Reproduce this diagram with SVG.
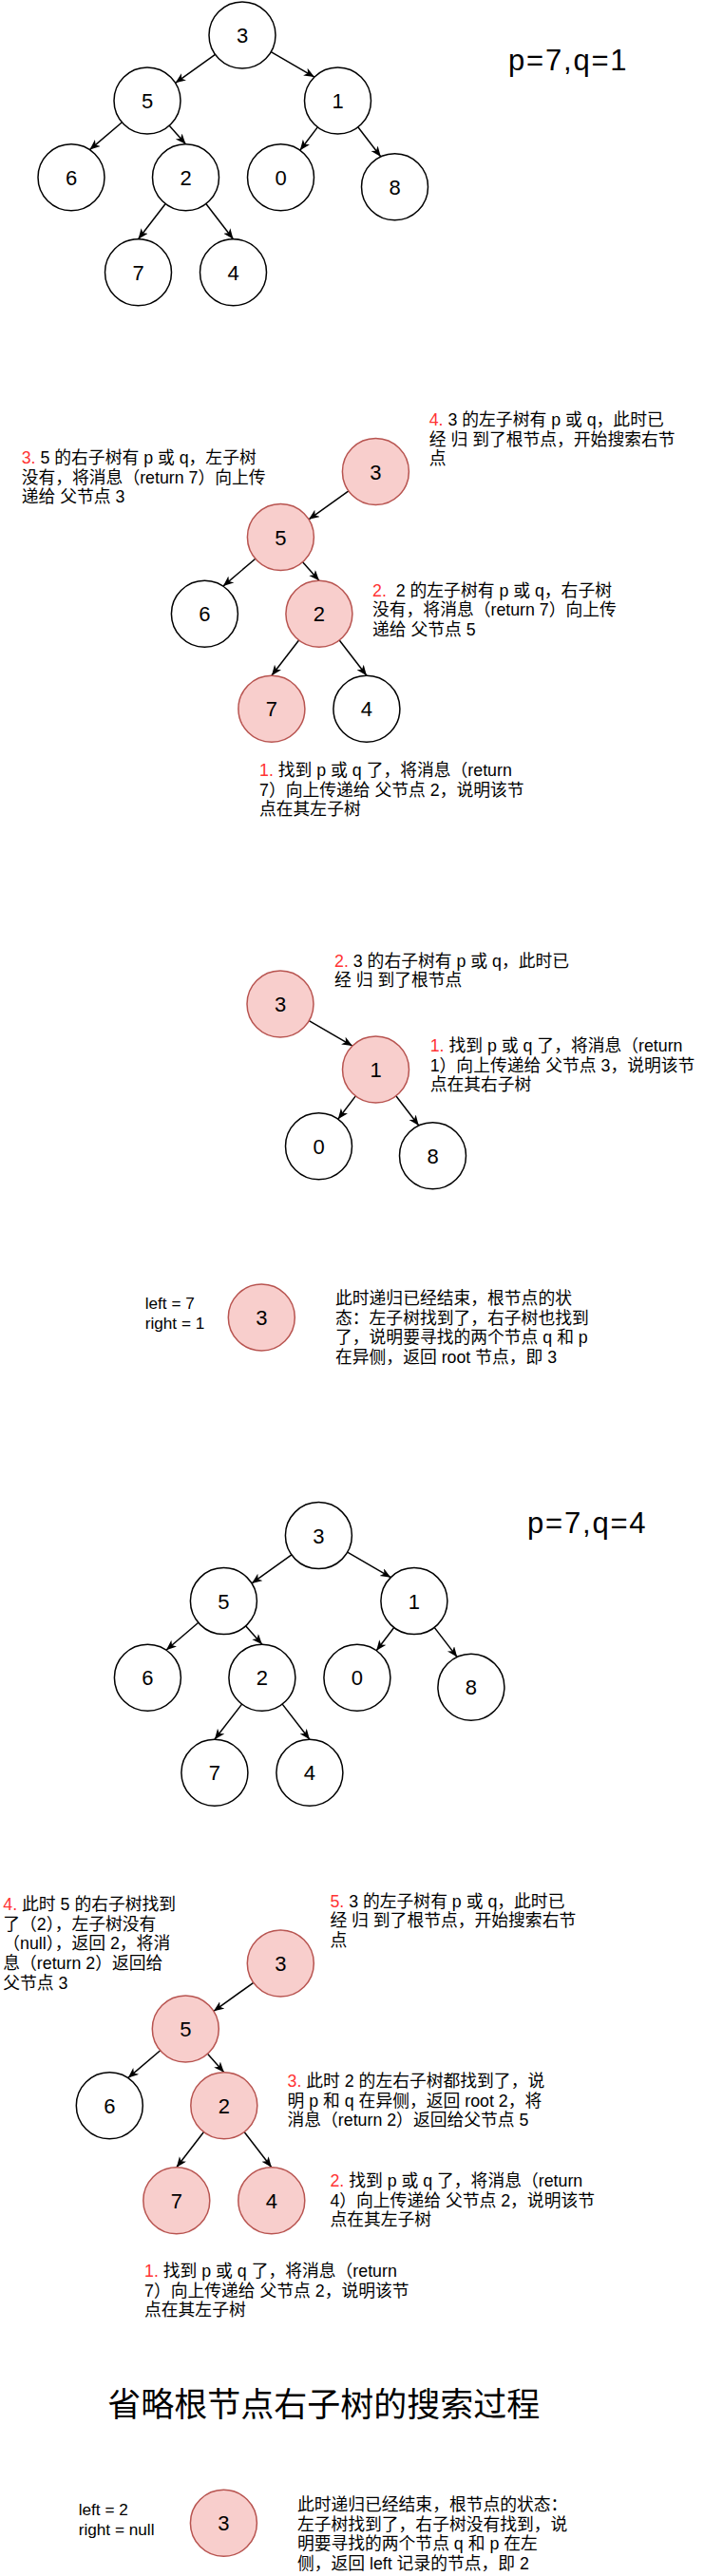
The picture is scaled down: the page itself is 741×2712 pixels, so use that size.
<svg xmlns="http://www.w3.org/2000/svg" width="741" height="2712" viewBox="0 0 741 2712">
<style>
text{font-family:"Liberation Sans","Noto Sans CJK SC",sans-serif;fill:#000;white-space:pre}
.t{font-size:17.8px}
.v{font-size:17.2px}
.d{font-size:22px;text-anchor:middle}
.r{fill:#FF3333}
.n{fill:#fff;stroke:#000;stroke-width:1.5}
.h{fill:#f8cecc;stroke:#b85450;stroke-width:1.5}
.e{fill:none;stroke:#000;stroke-width:1.5;marker-end:url(#arr)}
.pq{font-size:31px;letter-spacing:1.8px}
.title{font-size:35px}
</style>
<defs>
<marker id="arr" markerUnits="userSpaceOnUse" markerWidth="12" markerHeight="10" refX="11" refY="4.5" orient="auto">
<path d="M0,0 L11,4.5 L0,9 L3,4.5 z" fill="#000"/>
</marker>
</defs>
<rect width="741" height="2712" fill="#fff"/>

<!-- Tree 1 -->
<g id="tree1-edges">
<path class="e" d="M226.5,57.3 L184.6,87.3"/>
<path class="e" d="M285.3,54.6 L330.9,81.1"/>
<path class="e" d="M128.4,128.7 L94.5,157.6"/>
<path class="e" d="M178.2,132.2 L195.5,151.7"/>
<path class="e" d="M334.3,133.9 L315.8,158.2"/>
<path class="e" d="M376.8,133.8 L400.8,165"/>
<path class="e" d="M174.2,214.5 L145.5,251.7"/>
<path class="e" d="M216.8,214.5 L245.5,251.7"/>
</g>
<g id="t1-n3"><circle class="n" cx="255" cy="37" r="35"/><text class="d" x="255" y="45">3</text></g>
<g id="t1-n5"><circle class="n" cx="155" cy="106" r="35"/><text class="d" x="155" y="114">5</text></g>
<g id="t1-n1"><circle class="n" cx="355.5" cy="106" r="35"/><text class="d" x="355.5" y="114">1</text></g>
<g id="t1-n6"><circle class="n" cx="75" cy="186.7" r="35"/><text class="d" x="75" y="194.7">6</text></g>
<g id="t1-n2"><circle class="n" cx="195.5" cy="186.7" r="35"/><text class="d" x="195.5" y="194.7">2</text></g>
<g id="t1-n0"><circle class="n" cx="295.5" cy="186.7" r="35"/><text class="d" x="295.5" y="194.7">0</text></g>
<g id="t1-n8"><circle class="n" cx="415.5" cy="196.7" r="35"/><text class="d" x="415.5" y="204.7">8</text></g>
<g id="t1-n7"><circle class="n" cx="145.5" cy="286.7" r="35"/><text class="d" x="145.5" y="294.7">7</text></g>
<g id="t1-n4"><circle class="n" cx="245.5" cy="286.7" r="35"/><text class="d" x="245.5" y="294.7">4</text></g>
<g id="t1-label"><text class="pq" x="535" y="74.3">p=7,q=1</text></g>

<!-- Section 2 -->
<g id="s2-edges" transform="translate(140.4,459.5)">
<path class="e" d="M226.5,57.3 L184.6,87.3"/>
<path class="e" d="M128.4,128.7 L94.5,157.6"/>
<path class="e" d="M178.2,132.2 L195.5,151.7"/>
<path class="e" d="M174.2,214.5 L145.5,251.7"/>
<path class="e" d="M216.8,214.5 L245.5,251.7"/>
</g>
<g id="s2-n3"><circle class="h" cx="395.4" cy="496.5" r="35"/><text class="d" x="395.4" y="504.5">3</text></g>
<g id="s2-n5"><circle class="h" cx="295.4" cy="565.5" r="35"/><text class="d" x="295.4" y="573.5">5</text></g>
<g id="s2-n6"><circle class="n" cx="215.4" cy="646.2" r="35"/><text class="d" x="215.4" y="654.2">6</text></g>
<g id="s2-n2"><circle class="h" cx="335.9" cy="646.2" r="35"/><text class="d" x="335.9" y="654.2">2</text></g>
<g id="s2-n7"><circle class="h" cx="285.9" cy="746.2" r="35"/><text class="d" x="285.9" y="754.2">7</text></g>
<g id="s2-n4"><circle class="n" cx="385.9" cy="746.2" r="35"/><text class="d" x="385.9" y="754.2">4</text></g>
<g id="s2-note4"><text class="t"><tspan x="451.7" y="448"><tspan class="r">4.</tspan> 3 的左子树有 p 或 q，此时已</tspan><tspan x="451.7" y="468.7">经 归 到了根节点，开始搜索右节</tspan><tspan x="451.7" y="489.4">点</tspan></text></g>
<g id="s2-note3"><text class="t"><tspan x="22.7" y="488"><tspan class="r">3.</tspan> 5 的右子树有 p 或 q，左子树</tspan><tspan x="22.7" y="508.7">没有，将消息（return 7）向上传</tspan><tspan x="22.7" y="529.4">递给 父节点 3</tspan></text></g>
<g id="s2-note2"><text class="t"><tspan x="392" y="627.7"><tspan class="r">2.</tspan>  2 的左子树有 p 或 q，右子树</tspan><tspan x="392" y="648.4">没有，将消息（return 7）向上传</tspan><tspan x="392" y="669.1">递给 父节点 5</tspan></text></g>
<g id="s2-note1"><text class="t"><tspan x="273" y="817"><tspan class="r">1.</tspan> 找到 p 或 q 了，将消息（return</tspan><tspan x="273" y="837.7">7）向上传递给 父节点 2，说明该节</tspan><tspan x="273" y="858.4">点在其左子树</tspan></text></g>

<!-- Section 3 -->
<g id="s3-edges" transform="translate(40,1020)">
<path class="e" d="M285.3,54.6 L330.9,81.1"/>
<path class="e" d="M334.3,133.9 L315.8,158.2"/>
<path class="e" d="M376.8,133.8 L400.8,165"/>
</g>
<g id="s3-n3"><circle class="h" cx="295" cy="1057" r="35"/><text class="d" x="295" y="1065">3</text></g>
<g id="s3-n1"><circle class="h" cx="395.5" cy="1126" r="35"/><text class="d" x="395.5" y="1134">1</text></g>
<g id="s3-n0"><circle class="n" cx="335.5" cy="1206.7" r="35"/><text class="d" x="335.5" y="1214.7">0</text></g>
<g id="s3-n8"><circle class="n" cx="455.5" cy="1216.7" r="35"/><text class="d" x="455.5" y="1224.7">8</text></g>
<g id="s3-note2"><text class="t"><tspan x="352" y="1017.7"><tspan class="r">2.</tspan> 3 的右子树有 p 或 q，此时已</tspan><tspan x="352" y="1038.4">经 归 到了根节点</tspan></text></g>
<g id="s3-note1"><text class="t"><tspan x="452.7" y="1107"><tspan class="r">1.</tspan> 找到 p 或 q 了，将消息（return</tspan><tspan x="452.7" y="1127.7">1）向上传递给 父节点 3，说明该节</tspan><tspan x="452.7" y="1148.4">点在其右子树</tspan></text></g>

<!-- Section 4 -->
<g id="s4-vars"><text class="v"><tspan x="152.7" y="1378.3">left = 7</tspan><tspan x="152.7" y="1399.3">right = 1</tspan></text></g>
<g id="s4-n3"><circle class="h" cx="275.3" cy="1387" r="35"/><text class="d" x="275.3" y="1395">3</text></g>
<g id="s4-note"><text class="t"><tspan x="353" y="1373">此时递归已经结束，根节点的状</tspan><tspan x="353" y="1393.7">态：左子树找到了，右子树也找到</tspan><tspan x="353" y="1414.4">了，说明要寻找的两个节点 q 和 p</tspan><tspan x="353" y="1435.1">在异侧，返回 root 节点，即 3</tspan></text></g>

<!-- Tree 2 -->
<g id="tree2-edges" transform="translate(80.4,1579.6)">
<path class="e" d="M226.5,57.3 L184.6,87.3"/>
<path class="e" d="M285.3,54.6 L330.9,81.1"/>
<path class="e" d="M128.4,128.7 L94.5,157.6"/>
<path class="e" d="M178.2,132.2 L195.5,151.7"/>
<path class="e" d="M334.3,133.9 L315.8,158.2"/>
<path class="e" d="M376.8,133.8 L400.8,165"/>
<path class="e" d="M174.2,214.5 L145.5,251.7"/>
<path class="e" d="M216.8,214.5 L245.5,251.7"/>
</g>
<g id="t2-n3"><circle class="n" cx="335.4" cy="1616.6" r="35"/><text class="d" x="335.4" y="1624.6">3</text></g>
<g id="t2-n5"><circle class="n" cx="235.4" cy="1685.6" r="35"/><text class="d" x="235.4" y="1693.6">5</text></g>
<g id="t2-n1"><circle class="n" cx="435.9" cy="1685.6" r="35"/><text class="d" x="435.9" y="1693.6">1</text></g>
<g id="t2-n6"><circle class="n" cx="155.4" cy="1766.3" r="35"/><text class="d" x="155.4" y="1774.3">6</text></g>
<g id="t2-n2"><circle class="n" cx="275.9" cy="1766.3" r="35"/><text class="d" x="275.9" y="1774.3">2</text></g>
<g id="t2-n0"><circle class="n" cx="375.9" cy="1766.3" r="35"/><text class="d" x="375.9" y="1774.3">0</text></g>
<g id="t2-n8"><circle class="n" cx="495.9" cy="1776.3" r="35"/><text class="d" x="495.9" y="1784.3">8</text></g>
<g id="t2-n7"><circle class="n" cx="225.9" cy="1866.3" r="35"/><text class="d" x="225.9" y="1874.3">7</text></g>
<g id="t2-n4"><circle class="n" cx="325.9" cy="1866.3" r="35"/><text class="d" x="325.9" y="1874.3">4</text></g>
<g id="t2-label"><text class="pq" x="555" y="1614">p=7,q=4</text></g>

<!-- Section 6 -->
<g id="s6-edges" transform="translate(40.3,2030)">
<path class="e" d="M226.5,57.3 L184.6,87.3"/>
<path class="e" d="M128.4,128.7 L94.5,157.6"/>
<path class="e" d="M178.2,132.2 L195.5,151.7"/>
<path class="e" d="M174.2,214.5 L145.5,251.7"/>
<path class="e" d="M216.8,214.5 L245.5,251.7"/>
</g>
<g id="s6-n3"><circle class="h" cx="295.3" cy="2067" r="35"/><text class="d" x="295.3" y="2075">3</text></g>
<g id="s6-n5"><circle class="h" cx="195.3" cy="2136" r="35"/><text class="d" x="195.3" y="2144">5</text></g>
<g id="s6-n6"><circle class="n" cx="115.3" cy="2216.7" r="35"/><text class="d" x="115.3" y="2224.7">6</text></g>
<g id="s6-n2"><circle class="h" cx="235.8" cy="2216.7" r="35"/><text class="d" x="235.8" y="2224.7">2</text></g>
<g id="s6-n7"><circle class="h" cx="185.8" cy="2316.7" r="35"/><text class="d" x="185.8" y="2324.7">7</text></g>
<g id="s6-n4"><circle class="h" cx="285.8" cy="2316.7" r="35"/><text class="d" x="285.8" y="2324.7">4</text></g>
<g id="s6-note4"><text class="t"><tspan x="3.3" y="2011"><tspan class="r">4.</tspan> 此时 5 的右子树找到</tspan><tspan x="3.3" y="2031.7">了（2），左子树没有</tspan><tspan x="3.3" y="2052.4">（null），返回 2，将消</tspan><tspan x="3.3" y="2073.1">息（return 2）返回给</tspan><tspan x="3.3" y="2093.8">父节点 3</tspan></text></g>
<g id="s6-note5"><text class="t"><tspan x="347.4" y="2007.7"><tspan class="r">5.</tspan> 3 的左子树有 p 或 q，此时已</tspan><tspan x="347.4" y="2028.4">经 归 到了根节点，开始搜索右节</tspan><tspan x="347.4" y="2049.1">点</tspan></text></g>
<g id="s6-note3"><text class="t"><tspan x="302.5" y="2197"><tspan class="r">3.</tspan> 此时 2 的左右子树都找到了，说</tspan><tspan x="302.5" y="2217.7">明 p 和 q 在异侧，返回 root 2，将</tspan><tspan x="302.5" y="2238.4">消息（return 2）返回给父节点 5</tspan></text></g>
<g id="s6-note2"><text class="t"><tspan x="347.4" y="2302"><tspan class="r">2.</tspan> 找到 p 或 q 了，将消息（return</tspan><tspan x="347.4" y="2322.7">4）向上传递给 父节点 2，说明该节</tspan><tspan x="347.4" y="2343.4">点在其左子树</tspan></text></g>
<g id="s6-note1"><text class="t"><tspan x="152" y="2397"><tspan class="r">1.</tspan> 找到 p 或 q 了，将消息（return</tspan><tspan x="152" y="2417.7">7）向上传递给 父节点 2，说明该节</tspan><tspan x="152" y="2438.4">点在其左子树</tspan></text></g>

<!-- Final -->
<g id="title"><text class="title" x="113.3" y="2544">省略根节点右子树的搜索过程</text></g>
<g id="f-vars"><text class="v"><tspan x="82.7" y="2648">left = 2</tspan><tspan x="82.7" y="2669">right = null</tspan></text></g>
<g id="f-n3"><circle class="h" cx="235.4" cy="2656.3" r="35"/><text class="d" x="235.4" y="2664.3">3</text></g>
<g id="f-note"><text class="t"><tspan x="312.9" y="2643">此时递归已经结束，根节点的状态：</tspan><tspan x="312.9" y="2663.7">左子树找到了，右子树没有找到，说</tspan><tspan x="312.9" y="2684.4">明要寻找的两个节点 q 和 p 在左</tspan><tspan x="312.9" y="2705.1">侧，返回 left 记录的节点，即 2</tspan></text></g>
</svg>
